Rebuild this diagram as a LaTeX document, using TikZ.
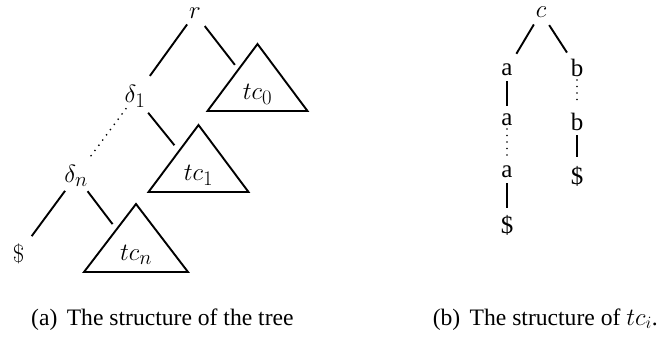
\documentclass[tikz,border=0pt]{standalone}
\usepackage[no-math]{fontspec}
\setmainfont{Liberation Serif}
\tikzset{
  lbl/.style={inner sep=0pt, font=\fontsize{28}{32}\selectfont},
  rlbl/.style={inner sep=0pt, font=\fontsize{25}{30}\selectfont},
  captext/.style={inner sep=0pt, font=\fontsize{23.6}{28}\selectfont},
  conn/.style={line width=1.9pt},
  dotconn/.style={line width=1.9pt, line cap=round, dash pattern=on 0pt off 6.5pt},
  tri/.style={line width=1.9pt, line join=miter}
}
\begin{document}
\begin{tikzpicture}[x=1pt,y=-1pt]
\useasboundingbox (0,0) rectangle (659,338);
% left tree
\node[lbl] (r) at (195,13.5) {$r$};
\node[lbl] (d1) at (135,96.5) {$\delta_1$};
\node[lbl] (dn) at (76,176) {$\delta_n$};
\node[lbl] (dl) at (18.5,254) {$\$$};
\node[lbl] (tc0) at (257.5,94) {$tc_0$};
\node[lbl] (tc1) at (198.5,175) {$tc_1$};
\node[lbl] (tcn) at (136,255) {$tc_n$};
\draw[tri] (tc0) ++(0,-50) -- ++(-50,67) -- ++(100,0) -- cycle;
\draw[tri] (tc1) ++(0,-50) -- ++(-50,67) -- ++(100,0) -- cycle;
\draw[tri] (tcn) ++(0,-51) -- ++(-52,68) -- ++(104,0) -- cycle;
\draw[conn, shorten <=13.5pt, shorten >=25.4pt] (r.center) -- (d1.center);
\draw[conn, shorten <=15.9pt, shorten >=36.9pt] (r.center) -- (tc0.center);
\draw[dotconn, shorten <=15.2pt, shorten >=22.5pt] (d1.center) -- (dn.center);
\draw[conn, shorten <=20.9pt, shorten >=38.3pt] (d1.center) -- (tc1.center);
\draw[conn, shorten <=18.4pt, shorten >=22.2pt] (dn.center) -- (dl.center);
\draw[conn, shorten <=19.1pt, shorten >=38.8pt] (dn.center) -- (tcn.center);
% right tree
\node[lbl] (c) at (541,12.5) {$c$};
\node[rlbl] (a1) at (507,69.5) {a};
\node[rlbl] (a2) at (507,120) {a};
\node[rlbl] (a3) at (507,172) {a};
\node[rlbl] (da) at (507,225) {\$};
\node[rlbl] (b1) at (577,68) {b};
\node[rlbl] (b2) at (577,121.5) {b};
\node[rlbl] (db) at (577,176) {\$};
\draw[conn, shorten <=13.9pt, shorten >=18.3pt] (c.center) -- (a1.center);
\draw[conn, shorten <=15pt, shorten >=18.4pt] (c.center) -- (b1.center);
\draw[conn, shorten <=11.5pt, shorten >=14pt] (a1.center) -- (a2.center);
\draw[dotconn, shorten <=9pt, shorten >=12pt] (a2.center) -- (a3.center);
\draw[conn, shorten <=11pt, shorten >=17pt] (a3.center) -- (da.center);
\draw[dotconn, shorten <=12pt, shorten >=16.5pt] (b1.center) -- (b2.center);
\draw[conn, shorten <=13.5pt, shorten >=19pt] (b2.center) -- (db.center);
% captions
\node[captext, anchor=base west] (capa) at (31,325) {(a)\hspace{0.4em}The structure of the tree};
\node[captext, anchor=base east] (capb) at (658,325) {(b)\hspace{0.4em}The structure of $tc_i$.};
\end{tikzpicture}
\end{document}
